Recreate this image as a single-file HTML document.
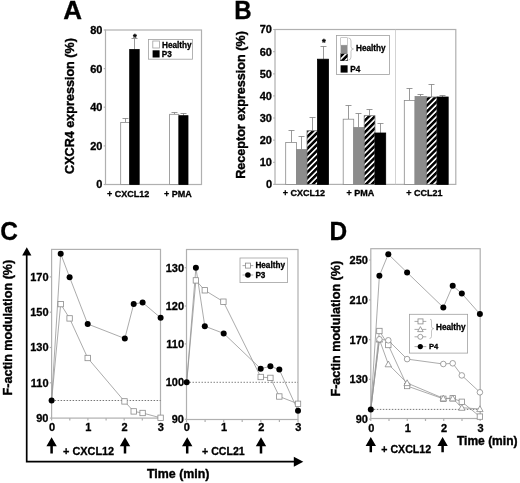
<!DOCTYPE html>
<html><head><meta charset="utf-8"><title>Figure</title>
<style>
html,body{margin:0;padding:0;background:#fff;}
svg{display:block;}
text{font-family:"Liberation Sans", sans-serif;font-weight:bold;fill:#000;stroke:#000;stroke-width:0.4px;}
.ax{stroke:#b0b0b0;stroke-width:1.2;fill:none;}
.ln{stroke:#969696;stroke-width:0.8;fill:none;}
.eb{stroke:#808080;stroke-width:0.8;fill:none;}
.br{stroke:#a0a0a0;stroke-width:0.6;fill:none;}
.yt{font-size:12.6px;stroke-width:0.4px;}
.tk{font-size:11px;stroke-width:0.3px;}
.pl{font-size:10.9px;stroke-width:0.3px;}
.st{font-size:9.5px;}
.xl{font-size:9px;stroke-width:0.3px;}
.lg{font-size:8.2px;stroke-width:0.3px;}
</style></head><body>
<svg width="520" height="483" viewBox="0 0 520 483">
<defs>
<pattern id="hatch" width="4.17" height="4.17" patternUnits="userSpaceOnUse" patternTransform="rotate(-45)">
<rect width="4.2" height="4.2" fill="#fff"/><rect width="4.2" height="2.55" fill="#000"/>
</pattern>
</defs>
<rect width="520" height="483" fill="#fff"/>

<text transform="translate(63.3,18.7) scale(1.0,1)" style="font-size:26px;stroke-width:0.3px">A</text>
<text transform="translate(74,106) rotate(-90)" class="yt" text-anchor="middle">CXCR4 expression (%)</text>
<rect class="ax" x="105.5" y="30" width="96.0" height="154.5"/>
<path class="ax" d="M103.7 184.5H105.5"/>
<text x="102.4" y="188.4" class="tk" text-anchor="end" >0</text>
<path class="ax" d="M103.7 145.9H105.5"/>
<text x="102.4" y="149.8" class="tk" text-anchor="end" >20</text>
<path class="ax" d="M103.7 107.2H105.5"/>
<text x="102.4" y="111.2" class="tk" text-anchor="end" >40</text>
<path class="ax" d="M103.7 68.6H105.5"/>
<text x="102.4" y="72.5" class="tk" text-anchor="end" >60</text>
<path class="ax" d="M103.7 30.0H105.5"/>
<text x="102.4" y="33.9" class="tk" text-anchor="end" >80</text>
<path class="eb" d="M125.5 122.4V118.5M122.5 118.5H128.5"/>
<rect x="120.7" y="122.4" width="9.0" height="62.1" fill="#fff" stroke="#8a8a8a" stroke-width="0.8"/>
<path class="eb" d="M134.5 49.5V38.5M131.5 38.5H137.5"/>
<rect x="129.7" y="49.5" width="9.5" height="135.0" fill="#000" stroke="#000" stroke-width="0.8"/>
<path class="eb" d="M174.5 114.3V112.5M171.5 112.5H177.5"/>
<rect x="169.6" y="114.3" width="9.3" height="70.2" fill="#fff" stroke="#8a8a8a" stroke-width="0.8"/>
<path class="eb" d="M183.5 115.7V113.5M180.5 113.5H186.5"/>
<rect x="178.9" y="115.7" width="9.1" height="68.8" fill="#000" stroke="#000" stroke-width="0.8"/>
<text x="134.9" y="39.6" class="st" text-anchor="middle" >*</text>
<text x="107" y="197" class="xl" text-anchor="start" >+ CXCL12</text>
<text x="164" y="197" class="xl" text-anchor="start" >+ PMA</text>
<rect x="148.5" y="39.5" width="44" height="19.7" fill="#fff" stroke="#a0a0a0" stroke-width="0.8"/>
<rect x="152.8" y="41" width="6.6" height="7" fill="#fff" stroke="#a0a0a0" stroke-width="0.8"/>
<rect x="152.6" y="50.3" width="7" height="7.2" fill="#000"/>
<text x="162" y="48" class="lg" text-anchor="start" >Healthy</text>
<text x="161.8" y="57.2" class="lg" text-anchor="start" >P3</text>
<text transform="translate(234.2,18.7) scale(0.94,1)" style="font-size:25.6px;stroke-width:0.3px">B</text>
<text transform="translate(245,105) rotate(-90)" class="yt" text-anchor="middle">Receptor expression (%)</text>
<rect class="ax" x="275" y="29.5" width="180.8" height="154.9"/>
<path d="M395.5 29.5V184.4" stroke="#c8c8c8" stroke-width="0.8"/>
<path class="ax" d="M273.2 184.4H275"/>
<text x="272" y="188.3" class="tk" text-anchor="end" >0</text>
<path class="ax" d="M273.2 162.3H275"/>
<text x="272" y="166.2" class="tk" text-anchor="end" >10</text>
<path class="ax" d="M273.2 140.1H275"/>
<text x="272" y="144.0" class="tk" text-anchor="end" >20</text>
<path class="ax" d="M273.2 118.0H275"/>
<text x="272" y="121.9" class="tk" text-anchor="end" >30</text>
<path class="ax" d="M273.2 95.9H275"/>
<text x="272" y="99.8" class="tk" text-anchor="end" >40</text>
<path class="ax" d="M273.2 73.8H275"/>
<text x="272" y="77.7" class="tk" text-anchor="end" >50</text>
<path class="ax" d="M273.2 51.6H275"/>
<text x="272" y="55.5" class="tk" text-anchor="end" >60</text>
<path class="ax" d="M273.2 29.5H275"/>
<text x="272" y="33.4" class="tk" text-anchor="end" >70</text>
<path class="eb" d="M291.5 142.5V130.5M288.5 130.5H294.5"/>
<rect x="285.7" y="142.5" width="10.8" height="41.9" fill="#fff" stroke="#8a8a8a" stroke-width="0.8"/>
<path class="eb" d="M301.5 149.5V136.5M298.5 136.5H304.5"/>
<rect x="296.5" y="149.5" width="10.5" height="34.9" fill="#8c8c8c" stroke="#8a8a8a" stroke-width="0.8"/>
<path class="eb" d="M312.5 130.7V117.5M309.5 117.5H315.5"/>
<rect x="307.0" y="130.7" width="10.5" height="53.7" fill="url(#hatch)" stroke="#777" stroke-width="0.8"/>
<path class="eb" d="M323.5 59.2V46.5M320.5 46.5H326.5"/>
<rect x="317.5" y="59.2" width="11.0" height="125.2" fill="#000" stroke="#000" stroke-width="0.8"/>
<path class="eb" d="M348.5 119.2V105.5M345.5 105.5H351.5"/>
<rect x="343.2" y="119.2" width="10.5" height="65.2" fill="#fff" stroke="#8a8a8a" stroke-width="0.8"/>
<path class="eb" d="M358.5 127.5V113.5M355.5 113.5H361.5"/>
<rect x="353.7" y="127.5" width="10.5" height="56.9" fill="#8c8c8c" stroke="#8a8a8a" stroke-width="0.8"/>
<path class="eb" d="M369.5 115.7V109.5M366.5 109.5H372.5"/>
<rect x="364.2" y="115.7" width="10.8" height="68.7" fill="url(#hatch)" stroke="#777" stroke-width="0.8"/>
<path class="eb" d="M380.5 133.0V123.5M377.5 123.5H383.5"/>
<rect x="375.0" y="133.0" width="10.7" height="51.4" fill="#000" stroke="#000" stroke-width="0.8"/>
<path class="eb" d="M409.5 100.4V88.5M406.5 88.5H412.5"/>
<rect x="404.3" y="100.4" width="10.7" height="84.0" fill="#fff" stroke="#8a8a8a" stroke-width="0.8"/>
<path class="eb" d="M420.5 96.4V94.5M417.5 94.5H423.5"/>
<rect x="415.0" y="96.4" width="11.3" height="88.0" fill="#8c8c8c" stroke="#8a8a8a" stroke-width="0.8"/>
<path class="eb" d="M431.5 97.0V84.5M428.5 84.5H434.5"/>
<rect x="426.3" y="97.0" width="10.8" height="87.4" fill="url(#hatch)" stroke="#777" stroke-width="0.8"/>
<path class="eb" d="M442.5 97.0V95.5M439.5 95.5H445.5"/>
<rect x="437.1" y="97.0" width="11.1" height="87.4" fill="#000" stroke="#000" stroke-width="0.8"/>
<text x="323.8" y="45.3" class="st" text-anchor="middle" >*</text>
<text x="282.8" y="196.4" class="xl" text-anchor="start" >+ CXCL12</text>
<text x="346.6" y="196.4" class="xl" text-anchor="start" >+ PMA</text>
<text x="406.2" y="196.4" class="xl" text-anchor="start" >+ CCL21</text>
<rect x="336.5" y="35.5" width="53" height="39" fill="#fff" stroke="#a0a0a0" stroke-width="0.8"/>
<rect x="340.7" y="37.7" width="6.8" height="7.5" fill="#fff" stroke="#a8a8a8" stroke-width="0.6"/>
<rect x="340.6" y="45.2" width="6.9" height="8" fill="#8c8c8c"/>
<rect x="340.7" y="53.8" width="6.8" height="7" fill="url(#hatch)" stroke="#000" stroke-width="0.4"/>
<rect x="340.6" y="65.3" width="7" height="7.3" fill="#000"/>
<path class="br" d="M348.5 38 Q351 38 351 41 V46.5 Q351 49 353.5 49 Q351 49 351 51.5 V57 Q351 60 348.5 60"/>
<text x="356" y="50.8" class="lg" text-anchor="start" >Healthy</text>
<text x="350.2" y="71.6" class="lg" text-anchor="start" >P4</text>
<path d="M26.7 255V461.7H295" stroke="#000" stroke-width="1.7" fill="none"/>
<path d="M26.8 247.3L22.2 255.6H31.4Z" fill="#000"/>
<path d="M303.3 461.8L293.8 456.8V466.8Z" fill="#000"/>
<text transform="translate(0.2,240) scale(0.93,1)" style="font-size:26.3px;stroke-width:0.3px">C</text>
<text transform="translate(11.6,327.6) rotate(-90)" class="yt" text-anchor="middle">F-actin modulation (%)</text>
<text x="147" y="478.4" class="yt" style="font-size:12.4px" text-anchor="start" >Time (min)</text>
<rect class="ax" x="51.6" y="249.4" width="108.9" height="168.70000000000002"/>
<path class="ax" d="M49.800000000000004 418.1H51.6"/>
<text x="48.5" y="422.0" class="tk" text-anchor="end" >90</text>
<path class="ax" d="M49.800000000000004 382.8H51.6"/>
<text x="48.5" y="386.7" class="tk" text-anchor="end" >110</text>
<path class="ax" d="M49.800000000000004 347.5H51.6"/>
<text x="48.5" y="351.4" class="tk" text-anchor="end" >130</text>
<path class="ax" d="M49.800000000000004 312.2H51.6"/>
<text x="48.5" y="316.1" class="tk" text-anchor="end" >150</text>
<path class="ax" d="M49.800000000000004 276.9H51.6"/>
<text x="48.5" y="280.8" class="tk" text-anchor="end" >170</text>
<path class="ax" d="M51.6 418.1v2.5"/>
<path class="ax" d="M69.8 418.1v2.5"/>
<path class="ax" d="M87.9 418.1v2.5"/>
<path class="ax" d="M106.1 418.1v2.5"/>
<path class="ax" d="M124.2 418.1v2.5"/>
<path class="ax" d="M142.3 418.1v2.5"/>
<path class="ax" d="M160.5 418.1v2.5"/>
<text x="52.0" y="431.4" class="tk" text-anchor="middle" >0</text>
<text x="88.3" y="431.4" class="tk" text-anchor="middle" >1</text>
<text x="124.6" y="431.4" class="tk" text-anchor="middle" >2</text>
<text x="160.9" y="431.4" class="tk" text-anchor="middle" >3</text>
<path d="M51.6 400.5H160.5" stroke="#555" stroke-width="0.8" stroke-dasharray="1.5 1.5"/>
<polyline class="ln" points="51.6,400.5 60.7,304.1 69.6,318.4 87.7,358.0 124.5,401.4 133.7,411.4 142.6,413.0 160.6,417.8"/>
<polyline class="ln" points="51.6,400.5 60.7,253.7 69.6,277.2 87.7,324.0 124.8,338.5 133.7,304.1 142.6,302.5 160.6,317.8"/>
<rect x="58.0" y="301.4" width="5.4" height="5.4" fill="#fff" stroke="#8a8a8a" stroke-width="0.8"/>
<rect x="66.9" y="315.7" width="5.4" height="5.4" fill="#fff" stroke="#8a8a8a" stroke-width="0.8"/>
<rect x="85.0" y="355.3" width="5.4" height="5.4" fill="#fff" stroke="#8a8a8a" stroke-width="0.8"/>
<rect x="121.8" y="398.7" width="5.4" height="5.4" fill="#fff" stroke="#8a8a8a" stroke-width="0.8"/>
<rect x="131.0" y="408.7" width="5.4" height="5.4" fill="#fff" stroke="#8a8a8a" stroke-width="0.8"/>
<rect x="139.9" y="410.3" width="5.4" height="5.4" fill="#fff" stroke="#8a8a8a" stroke-width="0.8"/>
<rect x="157.9" y="415.1" width="5.4" height="5.4" fill="#fff" stroke="#8a8a8a" stroke-width="0.8"/>
<circle cx="51.6" cy="400.5" r="3" fill="#000" stroke="none" stroke-width="0.8"/>
<circle cx="60.7" cy="253.7" r="3" fill="#000" stroke="none" stroke-width="0.8"/>
<circle cx="69.6" cy="277.2" r="3" fill="#000" stroke="none" stroke-width="0.8"/>
<circle cx="87.7" cy="324.0" r="3" fill="#000" stroke="none" stroke-width="0.8"/>
<circle cx="124.8" cy="338.5" r="3" fill="#000" stroke="none" stroke-width="0.8"/>
<circle cx="133.7" cy="304.1" r="3" fill="#000" stroke="none" stroke-width="0.8"/>
<circle cx="142.6" cy="302.5" r="3" fill="#000" stroke="none" stroke-width="0.8"/>
<circle cx="160.6" cy="317.8" r="3" fill="#000" stroke="none" stroke-width="0.8"/>
<path d="M51.6 437.3L46.4 446.3H50.35V453.5H52.85V446.3H56.800000000000004Z" fill="#000"/>
<path d="M125 437.3L119.8 446.3H123.75V453.5H126.25V446.3H130.2Z" fill="#000"/>
<text x="63" y="455.3" class="pl" text-anchor="start" >+ CXCL12</text>
<rect class="ax" x="186.5" y="249.5" width="111.5" height="170.0"/>
<path class="ax" d="M184.7 419.3H186.5"/>
<text x="184" y="423.2" class="tk" text-anchor="end" >90</text>
<path class="ax" d="M184.7 382.3H186.5"/>
<text x="184" y="386.2" class="tk" text-anchor="end" >100</text>
<path class="ax" d="M184.7 343.9H186.5"/>
<text x="184" y="347.8" class="tk" text-anchor="end" >110</text>
<path class="ax" d="M184.7 306.0H186.5"/>
<text x="184" y="309.9" class="tk" text-anchor="end" >120</text>
<path class="ax" d="M184.7 267.7H186.5"/>
<text x="184" y="271.6" class="tk" text-anchor="end" >130</text>
<path class="ax" d="M186.5 419.5v2.5"/>
<path class="ax" d="M205.1 419.5v2.5"/>
<path class="ax" d="M223.7 419.5v2.5"/>
<path class="ax" d="M242.2 419.5v2.5"/>
<path class="ax" d="M260.8 419.5v2.5"/>
<path class="ax" d="M279.4 419.5v2.5"/>
<path class="ax" d="M298.0 419.5v2.5"/>
<text x="186.9" y="431.4" class="tk" text-anchor="middle" >0</text>
<text x="224.1" y="431.4" class="tk" text-anchor="middle" >1</text>
<text x="261.2" y="431.4" class="tk" text-anchor="middle" >2</text>
<text x="298.4" y="431.4" class="tk" text-anchor="middle" >3</text>
<path d="M186.5 382.3H298" stroke="#666" stroke-width="0.8" stroke-dasharray="1.5 1.5"/>
<polyline class="ln" points="186.7,382.3 195.9,280.4 204.8,290.3 223.4,301.7 260.7,377.0 270.4,377.9 279.3,396.5 298.0,403.8"/>
<polyline class="ln" points="186.7,382.3 195.9,267.7 204.8,326.2 223.7,333.4 260.7,368.7 270.4,366.3 279.3,369.6 298.0,410.7"/>
<rect x="193.2" y="277.7" width="5.4" height="5.4" fill="#fff" stroke="#8a8a8a" stroke-width="0.8"/>
<rect x="202.1" y="287.6" width="5.4" height="5.4" fill="#fff" stroke="#8a8a8a" stroke-width="0.8"/>
<rect x="220.7" y="299.0" width="5.4" height="5.4" fill="#fff" stroke="#8a8a8a" stroke-width="0.8"/>
<rect x="258.0" y="374.3" width="5.4" height="5.4" fill="#fff" stroke="#8a8a8a" stroke-width="0.8"/>
<rect x="267.7" y="375.2" width="5.4" height="5.4" fill="#fff" stroke="#8a8a8a" stroke-width="0.8"/>
<rect x="276.6" y="393.8" width="5.4" height="5.4" fill="#fff" stroke="#8a8a8a" stroke-width="0.8"/>
<rect x="295.3" y="401.1" width="5.4" height="5.4" fill="#fff" stroke="#8a8a8a" stroke-width="0.8"/>
<circle cx="186.7" cy="382.3" r="3" fill="#000" stroke="none" stroke-width="0.8"/>
<circle cx="195.9" cy="267.7" r="3" fill="#000" stroke="none" stroke-width="0.8"/>
<circle cx="204.8" cy="326.2" r="3" fill="#000" stroke="none" stroke-width="0.8"/>
<circle cx="223.7" cy="333.4" r="3" fill="#000" stroke="none" stroke-width="0.8"/>
<circle cx="260.7" cy="368.7" r="3" fill="#000" stroke="none" stroke-width="0.8"/>
<circle cx="270.4" cy="366.3" r="3" fill="#000" stroke="none" stroke-width="0.8"/>
<circle cx="279.3" cy="369.6" r="3" fill="#000" stroke="none" stroke-width="0.8"/>
<circle cx="298.0" cy="410.7" r="3" fill="#000" stroke="none" stroke-width="0.8"/>
<path d="M187.2 437.3L182.0 446.3H185.95V453.5H188.45V446.3H192.39999999999998Z" fill="#000"/>
<path d="M261 437.3L255.8 446.3H259.75V453.5H262.25V446.3H266.2Z" fill="#000"/>
<text x="202" y="454.6" class="pl" style="font-size:10.6px" text-anchor="start" >+ CCL21</text>
<rect x="240" y="258" width="47.5" height="24.6" fill="#fff" stroke="#a0a0a0" stroke-width="0.8"/>
<path class="ln" d="M242.5 265.6H253.3M242.5 275H253.3"/>
<rect x="245.4" y="263.1" width="5" height="5" fill="#fff" stroke="#8a8a8a" stroke-width="0.8"/>
<circle cx="247.9" cy="275.0" r="2.8" fill="#000" stroke="none" stroke-width="0.8"/>
<text x="255.4" y="268.4" class="lg" text-anchor="start" >Healthy</text>
<text x="255.4" y="277.6" class="lg" text-anchor="start" >P3</text>
<text transform="translate(329.4,239.7) scale(0.93,1)" style="font-size:26.3px;stroke-width:0.3px">D</text>
<text transform="translate(340.3,328.7) rotate(-90)" class="yt" text-anchor="middle">F-actin modulation (%)</text>
<rect class="ax" x="370.8" y="248.7" width="109.39999999999998" height="169.8"/>
<path class="ax" d="M369.0 419.2H370.8"/>
<text x="367.9" y="423.1" class="tk" text-anchor="end" >90</text>
<path class="ax" d="M369.0 379.4H370.8"/>
<text x="367.9" y="383.3" class="tk" text-anchor="end" >130</text>
<path class="ax" d="M369.0 339.6H370.8"/>
<text x="367.9" y="343.5" class="tk" text-anchor="end" >170</text>
<path class="ax" d="M369.0 299.8H370.8"/>
<text x="367.9" y="303.7" class="tk" text-anchor="end" >210</text>
<path class="ax" d="M369.0 260.0H370.8"/>
<text x="367.9" y="263.9" class="tk" text-anchor="end" >250</text>
<path class="ax" d="M370.8 418.5v2.5"/>
<path class="ax" d="M389.0 418.5v2.5"/>
<path class="ax" d="M407.3 418.5v2.5"/>
<path class="ax" d="M425.5 418.5v2.5"/>
<path class="ax" d="M443.7 418.5v2.5"/>
<path class="ax" d="M462.0 418.5v2.5"/>
<path class="ax" d="M480.2 418.5v2.5"/>
<text x="371.2" y="432" class="tk" text-anchor="middle" >0</text>
<text x="407.7" y="432" class="tk" text-anchor="middle" >1</text>
<text x="444.1" y="432" class="tk" text-anchor="middle" >2</text>
<text x="480.6" y="432" class="tk" text-anchor="middle" >3</text>
<path d="M370.8 409.4H480.2" stroke="#555" stroke-width="0.8" stroke-dasharray="1.5 1.5"/>
<polyline class="ln" points="370.8,409.4 379.4,331.0 388.3,345.0 407.1,386.0 443.3,398.8 452.7,398.3 461.8,401.8 479.9,416.6"/>
<polyline class="ln" points="370.8,409.4 379.4,339.5 388.3,364.2 407.1,383.0 443.3,398.3 452.7,398.3 461.8,407.7 479.9,409.0"/>
<polyline class="ln" points="370.8,409.4 379.4,339.3 388.3,340.3 407.1,359.1 443.3,364.0 452.7,363.3 461.8,375.4 479.9,392.3"/>
<polyline class="ln" points="370.8,409.4 379.4,275.7 388.3,254.2 407.1,272.5 443.3,307.4 452.7,285.7 461.8,293.5 479.9,314.0"/>
<rect x="376.7" y="328.3" width="5.4" height="5.4" fill="#fff" stroke="#8a8a8a" stroke-width="0.8"/>
<rect x="385.6" y="342.3" width="5.4" height="5.4" fill="#fff" stroke="#8a8a8a" stroke-width="0.8"/>
<rect x="404.4" y="383.3" width="5.4" height="5.4" fill="#fff" stroke="#8a8a8a" stroke-width="0.8"/>
<rect x="440.6" y="396.1" width="5.4" height="5.4" fill="#fff" stroke="#8a8a8a" stroke-width="0.8"/>
<rect x="450.0" y="395.6" width="5.4" height="5.4" fill="#fff" stroke="#8a8a8a" stroke-width="0.8"/>
<rect x="459.1" y="399.1" width="5.4" height="5.4" fill="#fff" stroke="#8a8a8a" stroke-width="0.8"/>
<rect x="477.2" y="413.9" width="5.4" height="5.4" fill="#fff" stroke="#8a8a8a" stroke-width="0.8"/>
<path d="M379.4 336.3L382.6 342.1H376.2Z" fill="#fff" stroke="#8a8a8a" stroke-width="0.8"/>
<path d="M388.3 361.0L391.5 366.8H385.1Z" fill="#fff" stroke="#8a8a8a" stroke-width="0.8"/>
<path d="M407.1 379.8L410.3 385.6H403.9Z" fill="#fff" stroke="#8a8a8a" stroke-width="0.8"/>
<path d="M443.3 395.1L446.5 400.9H440.1Z" fill="#fff" stroke="#8a8a8a" stroke-width="0.8"/>
<path d="M452.7 395.1L455.9 400.9H449.5Z" fill="#fff" stroke="#8a8a8a" stroke-width="0.8"/>
<path d="M461.8 404.5L465.0 410.3H458.6Z" fill="#fff" stroke="#8a8a8a" stroke-width="0.8"/>
<path d="M479.9 405.8L483.1 411.6H476.7Z" fill="#fff" stroke="#8a8a8a" stroke-width="0.8"/>
<circle cx="379.4" cy="339.3" r="2.8" fill="#fff" stroke="#8a8a8a" stroke-width="0.8"/>
<circle cx="388.3" cy="340.3" r="2.8" fill="#fff" stroke="#8a8a8a" stroke-width="0.8"/>
<circle cx="407.1" cy="359.1" r="2.8" fill="#fff" stroke="#8a8a8a" stroke-width="0.8"/>
<circle cx="443.3" cy="364.0" r="2.8" fill="#fff" stroke="#8a8a8a" stroke-width="0.8"/>
<circle cx="452.7" cy="363.3" r="2.8" fill="#fff" stroke="#8a8a8a" stroke-width="0.8"/>
<circle cx="461.8" cy="375.4" r="2.8" fill="#fff" stroke="#8a8a8a" stroke-width="0.8"/>
<circle cx="479.9" cy="392.3" r="2.8" fill="#fff" stroke="#8a8a8a" stroke-width="0.8"/>
<circle cx="370.8" cy="409.4" r="3" fill="#000" stroke="none" stroke-width="0.8"/>
<circle cx="379.4" cy="275.7" r="3" fill="#000" stroke="none" stroke-width="0.8"/>
<circle cx="388.3" cy="254.2" r="3" fill="#000" stroke="none" stroke-width="0.8"/>
<circle cx="407.1" cy="272.5" r="3" fill="#000" stroke="none" stroke-width="0.8"/>
<circle cx="443.3" cy="307.4" r="3" fill="#000" stroke="none" stroke-width="0.8"/>
<circle cx="452.7" cy="285.7" r="3" fill="#000" stroke="none" stroke-width="0.8"/>
<circle cx="461.8" cy="293.5" r="3" fill="#000" stroke="none" stroke-width="0.8"/>
<circle cx="479.9" cy="314.0" r="3" fill="#000" stroke="none" stroke-width="0.8"/>
<rect x="409.4" y="314.3" width="58.2" height="38.8" fill="#fff" stroke="#a0a0a0" stroke-width="0.8"/>
<path class="ln" d="M414.5 321.4H426.3M414.5 329.4H426.3M414.5 336.8H426.3M414.5 346.6H426.3"/>
<rect x="418.0" y="318.9" width="5" height="5" fill="#fff" stroke="#8a8a8a" stroke-width="0.8"/>
<path d="M420.4 326.6L423.2 331.6H417.6Z" fill="#fff" stroke="#8a8a8a" stroke-width="0.8"/>
<circle cx="420.3" cy="336.8" r="2.5" fill="#fff" stroke="#8a8a8a" stroke-width="0.8"/>
<circle cx="420.3" cy="346.6" r="2.6" fill="#000" stroke="none" stroke-width="0.8"/>
<path class="br" d="M430 319.4 Q431.5 318.8 431.5 321 V326.5 Q431.5 328.6 433.8 328.6 Q431.5 328.6 431.5 331 V336.3 Q431.5 338.5 429.5 338.5"/>
<text x="436" y="330.3" class="lg" text-anchor="start" >Healthy</text>
<text x="429" y="349.4" class="lg" style="font-size:7.6px" text-anchor="start" >P4</text>
<path d="M370.8 437L365.6 446H369.55V452.3H372.05V446H376.0Z" fill="#000"/>
<path d="M442.6 437L437.40000000000003 446H441.35V452.3H443.85V446H447.8Z" fill="#000"/>
<text x="381.3" y="453" class="pl" style="font-size:10.6px" text-anchor="start" >+ CXCL12</text>
<text x="457" y="445.2" class="yt" style="font-size:12px" text-anchor="start" >Time (min)</text>
</svg></body></html>
